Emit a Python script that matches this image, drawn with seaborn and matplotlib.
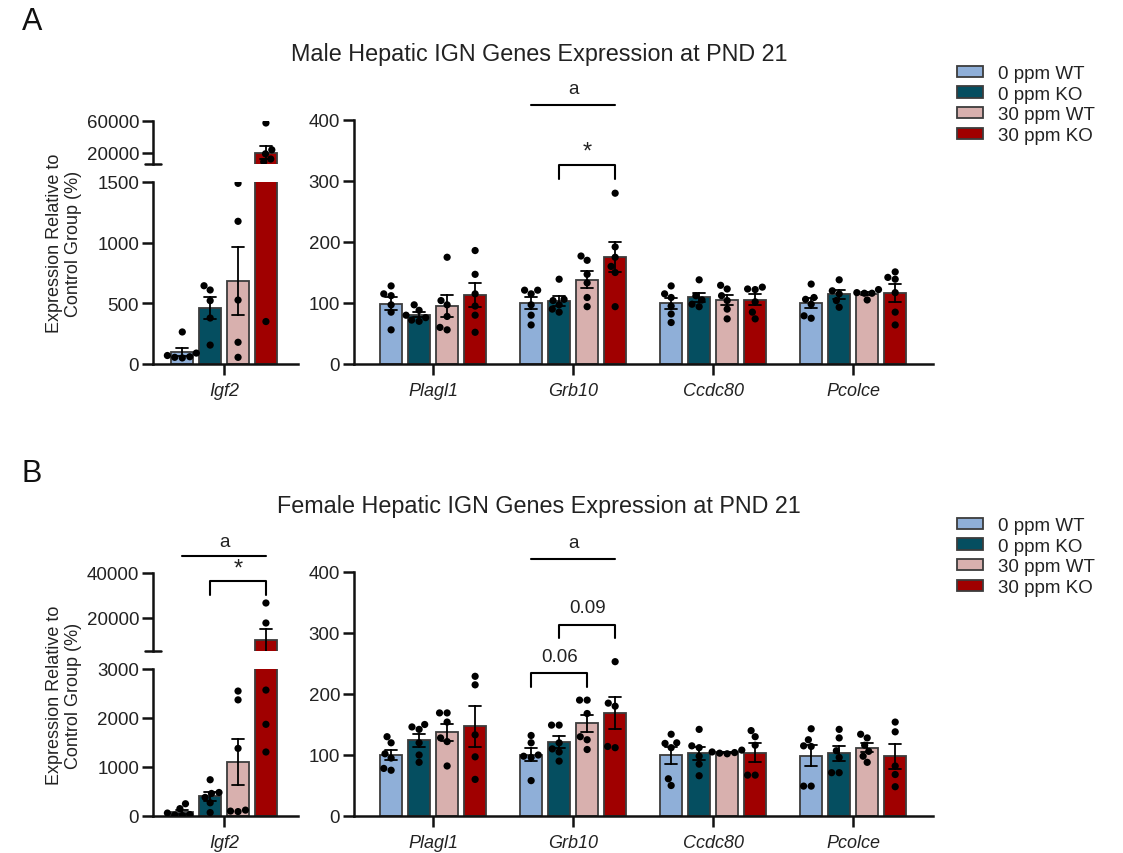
import pandas as pd
import seaborn as sns
import matplotlib.pyplot as plt
from matplotlib.patches import Patch
from matplotlib.lines import Line2D

sns.set_style('ticks')
plt.rcParams['font.family'] = ['Liberation Sans', 'DejaVu Sans']

W, H = 1123, 854

groups = ['0 ppm WT', '0 ppm KO', '30 ppm WT', '30 ppm KO']
palette = ['#8fafd8', '#054e60', '#d8b0ae', '#a00000']
genes = ['Plagl1', 'Grb10', 'Ccdc80', 'Pcolce']

# 各组单个样本值（%），顺序与 groups 一致
male_igf2 = [[264, 90, 70, 55, 60, 50],
             [645, 610, 522, 379, 156],
             [1489, 1176, 527, 179, 55],
             [57500, 24000, 19000, 12500, 9000, 350]]
male_plagl1 = [[128, 115, 112, 97, 85, 56],
               [97, 88, 80, 76, 72, 70],
               [175, 104, 97, 78, 56, 60],
               [186, 147, 115, 95, 80, 52]]
male_grb10 = [[121, 121, 115, 97, 80, 64],
              [139, 106, 104, 97, 90, 85],
              [177, 170, 147, 133, 109, 94],
              [280, 192, 175, 160, 150, 94]]
male_ccdc80 = [[128, 115, 109, 95, 82, 68],
               [138, 112, 105, 98, 94],
               [129, 123, 112, 104, 90, 74],
               [126, 123, 122, 102, 85, 74]]
male_pcolce = [[131, 109, 106, 98, 79, 75],
               [138, 120, 115, 104, 93],
               [122, 117, 116, 116, 105],
               [151, 142, 139, 117, 85, 64]]

female_igf2 = [[250, 150, 60, 30, 20, 10],
               [740, 480, 460, 380, 270, 70],
               [2550, 2370, 1380, 120, 100, 90],
               [26667, 17778, 2570, 1871, 1306]]
female_plagl1 = [[130, 120, 102, 95, 78, 75],
                 [150, 146, 142, 120, 100, 88],
                 [169, 169, 154, 128, 122, 82],
                 [229, 215, 133, 97, 60]]
female_grb10 = [[132, 120, 100, 96, 98, 58],
                [149, 149, 120, 110, 105, 90],
                [190, 190, 168, 130, 125, 109],
                [253, 185, 180, 112, 114]]
female_ccdc80 = [[134, 120, 119, 112, 61, 50],
                 [142, 115, 112, 98, 85, 66],
                 [108, 105, 104, 103, 102],
                 [140, 130, 116, 67, 67]]
female_pcolce = [[143, 125, 114, 115, 49, 49],
                 [142, 128, 107, 96, 71, 71],
                 [128, 134, 116, 106, 98, 88],
                 [154, 138, 82, 68, 48]]


def long_df(gene_lists, names):
    rows = []
    for name, lists in zip(names, gene_lists):
        for g, vals in zip(groups, lists):
            for v in vals:
                rows.append({'gene': name, 'group': g, 'value': v})
    return pd.DataFrame(rows)


def box(l, t, r, b):
    return [l / W, 1 - b / H, (r - l) / W, (b - t) / H]


def draw(ax, df, order):
    sns.barplot(data=df, x='gene', y='value', hue='group', order=order, hue_order=groups,
                palette=palette, saturation=1, errorbar='se', capsize=0.35, width=0.8, gap=0.2,
                edgecolor='#3c3c3c', linewidth=1.3,
                err_kws={'color': 'black', 'linewidth': 1.3}, legend=False, ax=ax)
    sns.swarmplot(data=df, x='gene', y='value', hue='group', order=order, hue_order=groups,
                  dodge=True, palette=['black'] * 4, size=5.2, legend=False, ax=ax)
    ax.set_xlabel('')
    ax.set_ylabel('')


def style(ax):
    for s in ['left', 'bottom']:
        ax.spines[s].set_linewidth(1.8)
        ax.spines[s].set_color('#111111')
    sns.despine(ax=ax)
    ax.tick_params(width=1.8, length=8, pad=2, labelsize=13.5, color='#111111',
                   labelcolor='#222222')
    ax.tick_params(axis='x', pad=5)


def bracket(ax, x0, x1, top, bottom, txt, ty, size=13.5):
    ax.plot([x0, x0, x1, x1], [bottom, top, top, bottom], color='black', lw=1.5, clip_on=False)
    ax.text((x0 + x1) / 2, ty, txt, ha='center', va='center', fontsize=size, color='#222222')


def hline(ax, x0, x1, y, txt, ty):
    ax.plot([x0, x1], [y, y], color='black', lw=1.5, clip_on=False)
    ax.text((x0 + x1) / 2, ty, txt, ha='center', va='center', fontsize=13.5, color='#222222')


fig = plt.figure(figsize=(W / 100, H / 100), dpi=100)

panels = [
    dict(igf2=male_igf2, others=[male_plagl1, male_grb10, male_ccdc80, male_pcolce],
         up=(122, 165), low=(183, 365), right=(121, 365),
         up_lim=(6250, 60000), up_ticks=[20000, 60000],
         low_lim=(0, 1500), low_ticks=[0, 500, 1000, 1500],
         title='Male Hepatic IGN Genes Expression at PND 21', letter='A'),
    dict(igf2=female_igf2, others=[female_plagl1, female_grb10, female_ccdc80, female_pcolce],
         up=(574, 652), low=(670, 817), right=(573, 817),
         up_lim=(5333, 40000), up_ticks=[20000, 40000],
         low_lim=(0, 3000), low_ticks=[0, 1000, 2000, 3000],
         title='Female Hepatic IGN Genes Expression at PND 21', letter='B'),
]

for i, p in enumerate(panels):
    df_igf2 = long_df([p['igf2']], ['Igf2'])
    df_rest = long_df(p['others'], genes)

    ax_up = fig.add_axes(box(153, p['up'][0], 298, p['up'][1]))
    ax_low = fig.add_axes(box(153, p['low'][0], 298, p['low'][1]))
    ax_r = fig.add_axes(box(354, p['right'][0], 933, p['right'][1]))

    for ax in (ax_up, ax_low):
        draw(ax, df_igf2, ['Igf2'])
        ax.set_xlim(-0.51, 0.53)
        style(ax)
    ax_up.set_ylim(*p['up_lim'])
    ax_up.set_yticks(p['up_ticks'])
    ax_up.spines['bottom'].set_visible(False)
    ax_up.tick_params(axis='x', bottom=False, labelbottom=False)
    # 断轴处的短横线
    yb = 1 - p['up'][1] / H
    fig.add_artist(Line2D([145 / W, 161 / W], [yb, yb], color='#111111', lw=1.8))
    ax_low.set_ylim(*p['low_lim'])
    ax_low.set_yticks(p['low_ticks'])
    for lab in ax_low.get_xticklabels():
        lab.set_fontstyle('italic')
        lab.set_fontsize(13)

    draw(ax_r, df_rest, genes)
    ax_r.set_xlim(-0.565, 3.57)
    ax_r.set_ylim(0, 400)
    ax_r.set_yticks([0, 100, 200, 300, 400])
    style(ax_r)
    for lab in ax_r.get_xticklabels():
        lab.set_fontstyle('italic')
        lab.set_fontsize(13)

    fig.text(64 / W, 1 - (p['up'][0] + p['low'][1]) / 2 / H,
             'Expression Relative to\nControl Group (%)', rotation=90,
             ha='center', va='center', fontsize=13, color='#222222', linespacing=1.15)
    fig.text(539 / W, 1 - (p['up'][0] - 67) / H, p['title'], ha='center', va='center',
             fontsize=16.8, color='#222222')
    fig.text(22 / W, 1 - (p['up'][0] - 100) / H, p['letter'], ha='left', va='center',
             fontsize=22, color='#111111')

    handles = [Patch(facecolor=c, edgecolor='#3c3c3c', linewidth=1.3) for c in palette]
    fig.legend(handles, groups, loc='upper left',
               bbox_to_anchor=(940 / W, 1 - (p['up'][0] - 73) / H), frameon=False,
               fontsize=13.5, handlelength=1.4, handleheight=0.55, labelspacing=0.2,
               handletextpad=0.8, labelcolor='#222222')

    if i == 0:
        hline(ax_r, 0.7, 1.3, 425, 'a', 451)
        bracket(ax_r, 0.9, 1.3, 326, 303, '*', 349, size=17)
    else:
        hline(ax_r, 0.7, 1.3, 422, 'a', 448)
        bracket(ax_r, 0.9, 1.3, 313, 291, '0.09', 341)
        bracket(ax_r, 0.7, 1.1, 235, 212, '0.06', 262)
        hline(ax_up, -0.3, 0.3, 47555, 'a', 53778)
        bracket(ax_up, -0.1, 0.3, 36444, 30222, '*', 42200, size=17)

fig.savefig('out.png', dpi=100)
